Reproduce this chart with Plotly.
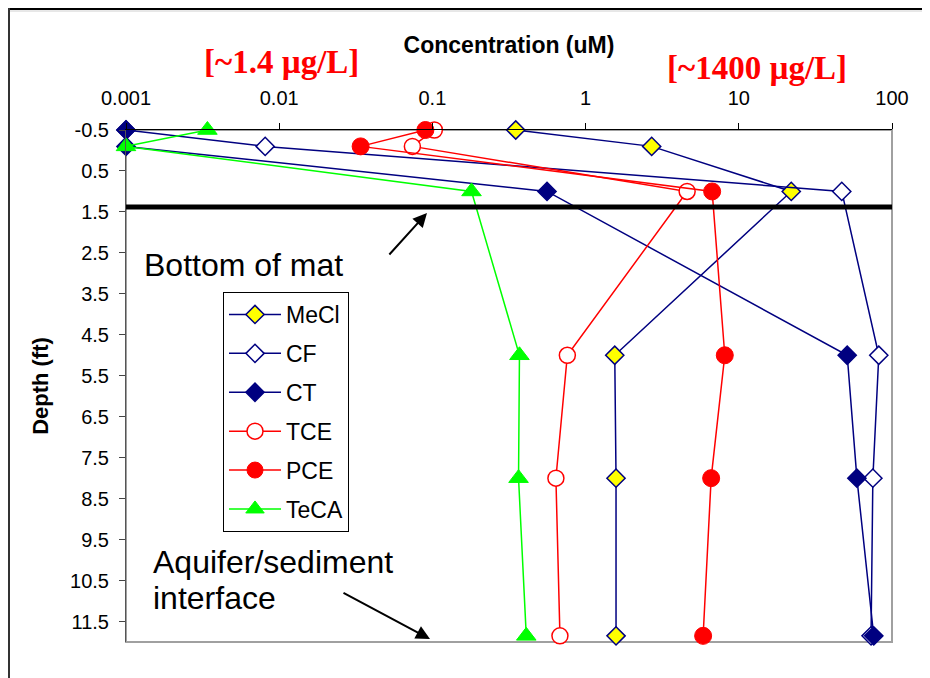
import plotly.graph_objects as go

# ---------------- data ----------------
depth_ft = [-0.5, -0.1, 1.0, 5.0, 8.0, 11.85]
mecl = [0.35, 2.7, 22.0, 1.55, 1.58, 1.58]
cf = [0.001, 0.0081, 47.0, 82.0, 75.0, 73.0]
ct = [0.001, 0.001, 0.56, 51.0, 59.0, 76.0]
tce = [0.103, 0.074, 4.6, 0.76, 0.64, 0.68]
pce = [0.09, 0.034, 6.7, 8.1, 6.6, 5.85]
teca = [0.0034, 0.001, 0.18, 0.37, 0.365, 0.41]

x_tickvals = [0.001, 0.01, 0.1, 1, 10, 100]
x_ticktext = ["0.001", "0.01", "0.1", "1", "10", "100"]
y_tickvals = [-0.5, 0.5, 1.5, 2.5, 3.5, 4.5, 5.5, 6.5, 7.5, 8.5, 9.5, 10.5, 11.5]
y_ticktext = [str(v) for v in y_tickvals]
mat_bottom_depth = 1.38

NAVY = "#000080"
RED = "#FF0000"
GREEN = "#00FF00"

series = [
    ("MeCl", mecl, NAVY, dict(symbol="diamond", size=14, color="#FFFF00", line=dict(color=NAVY, width=1.5))),
    ("CF", cf, NAVY, dict(symbol="diamond", size=14, color="white", line=dict(color=NAVY, width=1.5))),
    ("CT", ct, NAVY, dict(symbol="diamond", size=14, color=NAVY, line=dict(color=NAVY, width=1.5))),
    ("TCE", tce, RED, dict(symbol="circle", size=16, color="white", line=dict(color=RED, width=1.5))),
    ("PCE", pce, RED, dict(symbol="circle", size=17, color=RED, line=dict(color=RED, width=1))),
    ("TeCA", teca, GREEN, dict(symbol="triangle-up", size=17, color=GREEN, line=dict(color=GREEN, width=1))),
]

fig = go.Figure()
for name, vals, lc, mk in series:
    fig.add_trace(go.Scatter(
        x=vals, y=depth_ft, name=name, mode="lines+markers",
        line=dict(color=lc, width=1.5), marker=mk, legendgroup=name,
        cliponaxis=False,
    ))

# the page body has an 8px margin; figure is sized to fit the window
OFF = 8
W, H = 930 - OFF, 678 - OFF
L, R, T, B = 126 - OFF, 38, 130 - OFF, 36
PW, PH = W - L - R, H - T - B


def px(xp):
    """page pixel x -> paper coordinate"""
    return (xp - OFF - L) / PW


def py(yp):
    """page pixel y -> paper coordinate"""
    return (H - B - (yp - OFF)) / PH


FONT = "Liberation Sans, Arial, sans-serif"

fig.update_layout(
    width=W, height=H, autosize=False,
    margin=dict(l=L, r=R, t=T, b=B, pad=0, autoexpand=False),
    paper_bgcolor="white", plot_bgcolor="white",
    font=dict(family=FONT, size=20, color="black"),
    showlegend=True,
    legend=dict(
        x=px(223), y=py(292), xanchor="left", yanchor="top",
        bgcolor="white", bordercolor="black", borderwidth=1,
        font=dict(family=FONT, size=23, color="black"),
        traceorder="grouped", tracegroupgap=6, itemwidth=52,
    ),
    xaxis=dict(
        type="log", range=[-3, 2], side="top", automargin=False,
        tickvals=x_tickvals, ticktext=x_ticktext,
        ticks="outside", ticklen=6, tickcolor="black",
        ticklabelstandoff=10,
        showline=True, linecolor="black", linewidth=1,
        showgrid=False, zeroline=False,
        title=dict(text="<b>Concentration (uM)</b>", font=dict(size=23), standoff=26),
    ),
    yaxis=dict(
        range=[12, -0.5], automargin=False,
        tickvals=y_tickvals, ticktext=y_ticktext,
        ticks="outside", ticklen=6, tickcolor="#444",
        ticklabelstandoff=6,
        showline=True, linecolor="#555", linewidth=1,
        showgrid=False, zeroline=False,
        title=dict(text="<b>Depth (ft)</b>", font=dict(size=22), standoff=15),
    ),
)

# plot-area border (gray right/bottom)
fig.add_shape(type="rect", xref="paper", yref="paper", x0=0, x1=1, y0=0, y1=1,
              line=dict(color="#A0A0A0", width=2), layer="below")
# bottom of mat line
fig.add_shape(type="line", xref="paper", yref="y", x0=0, x1=1,
              y0=mat_bottom_depth, y1=mat_bottom_depth,
              line=dict(color="black", width=5))
# outer frame (top and left)
fig.add_shape(type="line", xref="paper", yref="paper", x0=px(7), x1=px(930), y0=py(9), y1=py(9),
              line=dict(color="black", width=2))
fig.add_shape(type="line", xref="paper", yref="paper", x0=px(9), x1=px(930), y0=py(11), y1=py(11),
              line=dict(color="#D0D0D0", width=1))
fig.add_shape(type="line", xref="paper", yref="paper", x0=px(9), x1=px(9), y0=py(8), y1=py(678),
              line=dict(color="#333", width=2))

ann_font = dict(family=FONT, size=32, color="black")
red_font = dict(family="Liberation Serif, Times New Roman, serif", size=33, color=RED)

fig.add_annotation(xref="paper", yref="paper", x=px(142), y=py(265), text="Bottom of mat",
                   showarrow=False, xanchor="left", yanchor="middle", font=ann_font)
fig.add_annotation(xref="paper", yref="paper", x=px(151), y=py(562), text="Aquifer/sediment",
                   showarrow=False, xanchor="left", yanchor="middle", font=ann_font)
fig.add_annotation(xref="paper", yref="paper", x=px(151), y=py(598), text="interface",
                   showarrow=False, xanchor="left", yanchor="middle", font=ann_font)
fig.add_annotation(xref="paper", yref="paper", x=px(427), y=py(213), text="",
                   showarrow=True, ax=388 - 427, ay=256 - 213, axref="pixel", ayref="pixel",
                   arrowhead=2, arrowsize=1.4, arrowwidth=2, arrowcolor="black")
fig.add_annotation(xref="paper", yref="paper", x=px(430), y=py(639), text="",
                   showarrow=True, ax=342 - 430, ay=592 - 639, axref="pixel", ayref="pixel",
                   arrowhead=2, arrowsize=1.4, arrowwidth=2, arrowcolor="black")
fig.add_annotation(xref="paper", yref="paper", x=px(281), y=py(62), text="<b>[~1.4 µg/L]</b>",
                   showarrow=False, xanchor="center", yanchor="middle", font=red_font)
fig.add_annotation(xref="paper", yref="paper", x=px(757), y=py(68), text="<b>[~1400 µg/L]</b>",
                   showarrow=False, xanchor="center", yanchor="middle", font=red_font)

fig.write_html("out.html")
